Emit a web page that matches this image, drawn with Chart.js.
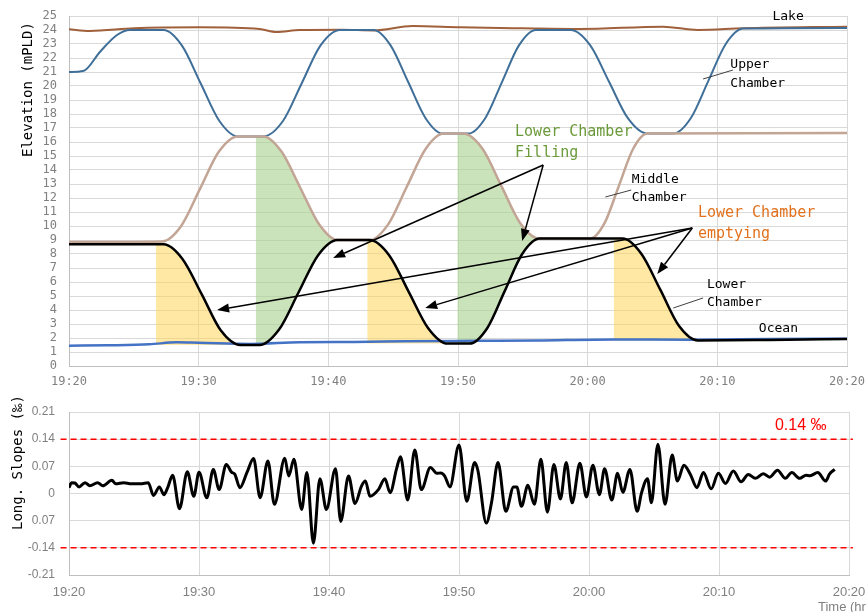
<!DOCTYPE html>
<html><head><meta charset="utf-8">
<script src="https://cdn.jsdelivr.net/npm/chart.js@4.4.1/dist/chart.umd.min.js"></script>
<style>
html,body{margin:0;padding:0;background:#fff;}
#wrap{position:relative;width:866px;height:612px;overflow:hidden;background:#fff;}
#top{position:absolute;left:0;top:0;}
#bot{position:absolute;left:0;top:390px;}
</style></head><body>
<div id="wrap"><canvas id="top" width="866" height="390"></canvas><canvas id="bot" width="866" height="222"></canvas></div>
<script>
// ---- tick labels ----
const timeTicks = [0, 10, 20, 30, 40, 50, 60];
const timeLabels = ['19:20', '19:30', '19:40', '19:50', '20:00', '20:10', '20:20'];
const slopeTicks = [-0.21, -0.14, -0.07, 0, 0.07, 0.14, 0.21];
const slopeTickLabels = ['-0.21', '-0.14', '0.07', '0', '0.07', '0.14', '0.21'];
const slopeLimit = 0.14;

// ---- elevation series [minutes after 19:20, elevation mPLD] ----
const lake = [[0,24.05],[1.6,23.93],[5,24.12],[10.1,24.19],[14.7,24.07],[16,23.86],[17.8,24.0],[21,24.02],[23.5,23.97],[26.5,24.28],[30.2,24.19],[35,24.12],[39.4,24.07],[45.8,24.24],[48.5,24.0],[52,24.12],[60,24.24]];
const upper = [[0,21.0],[1.1,21.07],[2.4,22.45],[3.7,23.64],[4.7,24.0],[7.3,24.0],[8.7,22.9],[10.15,20.2],[11.6,17.5],[13.0,16.4],[15.0,16.4],[16.5,17.5],[17.95,20.2],[19.4,22.9],[20.9,24.0],[23.5,24.0],[24.8,22.9],[26.15,20.3],[27.5,17.7],[28.8,16.6],[30.8,16.6],[32.1,17.7],[33.4,20.3],[34.7,22.9],[36.0,24.0],[38.7,24.0],[40.2,22.9],[41.65,20.3],[43.1,17.7],[44.6,16.6],[46.6,16.6],[47.95,17.7],[49.3,20.35],[50.65,23.0],[52.0,24.1],[60,24.15]];
const middle = [[0,8.85],[7.2,8.9],[8.65,10.0],[10.1,12.65],[11.55,15.3],[13.0,16.4],[15.0,16.4],[16.4,15.3],[17.85,12.7],[19.3,10.1],[20.7,9.0],[23.2,9.0],[24.6,10.1],[26.05,12.8],[27.5,15.5],[28.9,16.6],[30.4,16.6],[31.9,15.5],[33.35,12.85],[34.8,10.2],[36.3,9.1],[40.2,9.1],[41.3,10.2],[42.4,12.85],[43.5,15.5],[44.6,16.6],[60,16.65]];
const lower = [[0,8.7],[7.3,8.7],[8.75,7.65],[10.25,5.1],[11.7,2.55],[13.2,1.5],[14.7,1.5],[16.2,2.6],[17.7,5.25],[19.2,7.9],[20.7,9.0],[23.2,9.0],[24.7,7.9],[26.2,5.3],[27.7,2.7],[29.2,1.6],[30.9,1.6],[32.25,2.7],[33.6,5.35],[34.95,8.0],[36.3,9.1],[42.7,9.1],[44.15,8.0],[45.6,5.45],[47.05,2.85],[48.5,1.82],[54,1.86],[60,1.93]];
const ocean = [[0,1.45],[3,1.48],[6.2,1.55],[8.3,1.69],[10,1.66],[14,1.58],[17.8,1.7],[22,1.72],[26,1.76],[31.7,1.8],[36,1.83],[42,1.9],[48,1.88],[54,1.92],[60,1.95]];

// ---- shaded regions ----
const empty1 = [[6.7,8.7],[7.3,8.7],[8.75,7.65],[10.25,5.1],[11.7,2.55],[13.2,1.5],[14.0,1.5]];
const empty2 = [[23.0,9.0],[23.2,9.0],[24.7,7.9],[26.2,5.3],[27.7,2.7],[29.2,1.6],[30.0,1.6]];
const empty3 = [[42.0,9.1],[42.7,9.1],[44.15,8.0],[45.6,5.45],[47.05,2.85],[48.5,1.82],[49.5,1.82]];
const fill1Top = [[14.4,16.4],[15.0,16.4],[16.4,15.3],[17.85,12.7],[19.3,10.1],[20.7,9.0],[21.5,9.0]];
const fill1Bot = [[14.4,1.5],[14.7,1.5],[16.2,2.6],[17.7,5.25],[19.2,7.9],[20.7,9.0],[21.5,9.0]];
const fill2Top = [[29.95,16.6],[30.4,16.6],[31.9,15.5],[33.35,12.85],[34.8,10.2],[36.3,9.1],[37.0,9.1]];
const fill2Bot = [[29.95,1.6],[30.9,1.6],[32.25,2.7],[33.6,5.35],[34.95,8.0],[36.3,9.1],[37.0,9.1]];

// ---- longitudinal slope [minutes, permille] ----
const slope = [[0,0.015],[0.2,0.028],[0.45,0.027],[0.77,0.017],[1.23,0.028],[1.6,0.02],[2.2,0.028],[2.6,0.02],[3.3,0.034],[3.6,0.025],[4.2,0.028],[4.8,0.025],[5.5,0.025],[6.1,0.028],[6.5,-0.005],[6.95,0.017],[7.3,-0.003],[7.6,0.016],[7.97,0.047],[8.5,-0.039],[9.1,0.056],[9.6,-0.007],[10.0,0.055],[10.6,-0.011],[11.1,0.062],[11.55,0.01],[12.1,0.075],[12.5,0.055],[12.75,0.05],[13.15,0.015],[13.7,0.055],[14.2,0.09],[14.7,-0.011],[15.3,0.084],[15.8,-0.028],[16.6,0.091],[16.9,0.045],[17.3,0.088],[17.9,-0.041],[18.3,0.054],[18.8,-0.128],[19.3,0.038],[19.8,-0.041],[20.5,0.064],[20.9,-0.072],[21.5,0.045],[22.0,-0.026],[22.5,0.019],[22.8,0.032],[23.15,-0.007],[23.8,0.01],[24.3,0.038],[24.7,0.002],[25.2,0.064],[25.5,0.095],[26.05,-0.017],[26.6,0.112],[27.1,0.01],[27.8,0.067],[28.3,0.052],[28.6,0.053],[28.9,0.045],[29.3,0.017],[30.0,0.125],[30.6,-0.02],[31.2,0.08],[31.45,0.06],[32.1,-0.076],[32.5,-0.024],[33.0,0.08],[33.6,-0.046],[34.2,0.017],[34.45,0.017],[34.8,-0.033],[35.3,0.021],[35.8,-0.028],[36.3,0.088],[36.8,-0.048],[37.3,0.075],[37.8,-0.014],[38.25,0.08],[38.7,-0.024],[39.3,0.078],[39.8,-0.009],[40.3,0.073],[40.8,-0.003],[41.2,0.064],[41.75,-0.017],[42.2,0.052],[42.6,0.003],[43.15,0.062],[43.7,-0.046],[44.05,0.003],[44.5,0.038],[44.8,-0.024],[45.3,0.127],[45.85,-0.028],[46.4,0.099],[46.8,0.032],[47.3,0.073],[47.8,0.049],[48.3,0.015],[48.8,0.054],[49.4,0.012],[49.95,0.052],[50.5,0.026],[51.1,0.058],[51.7,0.03],[52.25,0.049],[52.8,0.039],[53.4,0.051],[53.9,0.042],[54.5,0.06],[55.1,0.039],[55.6,0.054],[56.2,0.039],[56.7,0.047],[57.0,0.046],[57.6,0.054],[58.2,0.032],[58.5,0.05],[58.9,0.062]];

const pts = a => a.map(p => ({x: p[0], y: p[1]}));
const MONO = '"DejaVu Sans Mono", "Liberation Mono", monospace';
const SANS = '"Liberation Sans", Arial, sans-serif';
const GRID = '#d9d9d9';
const TICK = '#808080';
const YELLOW = 'rgba(255,214,90,0.55)';
const GREEN = 'rgba(169,208,142,0.6)';

function lineDs(data, color, width, order) {
  return {data: pts(data), borderColor: color, borderWidth: width, pointRadius: 0, fill: false,
          cubicInterpolationMode: 'monotone', order: order};
}
function areaDs(data, fill, color) {
  return {data: pts(data), borderWidth: 0, borderColor: 'rgba(0,0,0,0)', pointRadius: 0, fill: fill,
          backgroundColor: color, cubicInterpolationMode: 'monotone', order: 20};
}
function noPad(s) { s.paddingLeft = 0; s.paddingRight = 0; s.paddingTop = 0; s.paddingBottom = 0; }

function arrow(ctx, x1, y1, x2, y2) {
  const ang = Math.atan2(y2 - y1, x2 - x1);
  const L = 12, W = 4.5;
  const bx = x2 - L * Math.cos(ang), by = y2 - L * Math.sin(ang);
  ctx.beginPath(); ctx.moveTo(x1, y1); ctx.lineTo(bx, by); ctx.stroke();
  ctx.beginPath();
  ctx.moveTo(x2, y2);
  ctx.lineTo(bx + W * Math.sin(ang), by - W * Math.cos(ang));
  ctx.lineTo(bx - W * Math.sin(ang), by + W * Math.cos(ang));
  ctx.closePath(); ctx.fill();
}

const topAnno = {
  id: 'topAnno',
  afterDraw(chart) {
    const {ctx, scales: {x, y}} = chart;
    const P = (t, e) => [x.getPixelForValue(t), y.getPixelForValue(e)];
    ctx.save();
    ctx.save();
    ctx.translate(28, 157); ctx.rotate(-Math.PI / 2);
    ctx.font = '14px ' + MONO; ctx.fillStyle = '#000'; ctx.textAlign = 'left'; ctx.textBaseline = 'middle';
    ctx.fillText('Elevation (mPLD)', 0, 0);
    ctx.restore();

    ctx.textAlign = 'left'; ctx.textBaseline = 'middle';
    ctx.font = '13px ' + MONO; ctx.fillStyle = '#000';
    let p;
    p = P(54.25, 24.93); ctx.fillText('Lake', p[0], p[1]);
    p = P(51.0, 21.5); ctx.fillText('Upper', p[0], p[1]);
    p = P(51.0, 20.2); ctx.fillText('Chamber', p[0], p[1]);
    p = P(43.4, 13.29); ctx.fillText('Middle', p[0], p[1]);
    p = P(43.4, 12.0); ctx.fillText('Chamber', p[0], p[1]);
    p = P(49.2, 5.79); ctx.fillText('Lower', p[0], p[1]);
    p = P(49.2, 4.5); ctx.fillText('Chamber', p[0], p[1]);
    p = P(53.2, 2.64); ctx.fillText('Ocean', p[0], p[1]);

    ctx.strokeStyle = '#404040'; ctx.lineWidth = 1;
    const lead = (a, b) => { const s = P(a[0], a[1]), e = P(b[0], b[1]); ctx.beginPath(); ctx.moveTo(s[0], s[1]); ctx.lineTo(e[0], e[1]); ctx.stroke(); };
    lead([48.9, 20.5], [51.2, 21.14]);
    lead([41.36, 12.07], [43.36, 12.57]);
    lead([46.6, 4.14], [48.9, 4.86]);

    ctx.font = '15px ' + MONO;
    ctx.fillStyle = '#6b9a3a';
    p = P(34.4, 16.71); ctx.fillText('Lower Chamber', p[0], p[1]);
    p = P(34.4, 15.21); ctx.fillText('Filling', p[0], p[1]);
    ctx.fillStyle = '#e2711d';
    p = P(48.5, 10.93); ctx.fillText('Lower Chamber', p[0], p[1]);
    p = P(48.5, 9.43); ctx.fillText('emptying', p[0], p[1]);

    ctx.strokeStyle = '#000'; ctx.fillStyle = '#000'; ctx.lineWidth = 1.5;
    const arr = (a, b) => { const s = P(a[0], a[1]), e = P(b[0], b[1]); arrow(ctx, s[0], s[1], e[0], e[1]); };
    arr([36.57, 14.36], [34.95, 8.93]);
    arr([36.57, 14.36], [20.37, 7.71]);
    arr([48.07, 9.86], [45.37, 6.57]);
    arr([48.07, 9.86], [27.47, 4.14]);
    arr([48.07, 9.86], [11.42, 4.0]);
    ctx.restore();
  }
};

const botAnno = {
  id: 'botAnno',
  afterDraw(chart) {
    const {ctx, scales: {x, y}} = chart;
    ctx.save();
    ctx.save();
    ctx.translate(18, 140); ctx.rotate(-Math.PI / 2);
    ctx.font = '14px ' + MONO; ctx.fillStyle = '#000'; ctx.textAlign = 'left'; ctx.textBaseline = 'middle';
    ctx.fillText('Long. Slopes (‰)', 0, 0);
    ctx.restore();
    ctx.font = '16px ' + SANS; ctx.fillStyle = '#ff0000'; ctx.textAlign = 'left'; ctx.textBaseline = 'middle';
    ctx.fillText('0.14 ‰', x.getPixelForValue(54.3), y.getPixelForValue(0.174));
    ctx.font = '13px ' + SANS; ctx.fillStyle = '#808080';
    ctx.fillText('Time (hr)', 818, 217);
    ctx.restore();
  }
};

Chart.defaults.animation = false;

new Chart(document.getElementById('top'), {
  type: 'line',
  data: {
    datasets: [
      lineDs(lower, '#000000', 2.5, 0),
      lineDs(ocean, '#4472c4', 2.5, 1),
      lineDs(middle, '#c2a595', 2.5, 2),
      lineDs(upper, '#3f6f98', 2, 3),
      lineDs(lake, '#a0603c', 2, 4),
      areaDs(empty1, {value: 1.5}, YELLOW),
      areaDs(empty2, {value: 1.6}, YELLOW),
      areaDs(empty3, {value: 1.82}, YELLOW),
      areaDs(fill1Bot, false, GREEN),
      areaDs(fill1Top, {target: 8}, GREEN),
      areaDs(fill2Bot, false, GREEN),
      areaDs(fill2Top, {target: 10}, GREEN)
    ]
  },
  options: {
    responsive: false, animation: false, events: [],
    layout: {padding: {left: 0, top: 16, right: 19, bottom: 0}},
    plugins: {legend: {display: false}, tooltip: {enabled: false}, filler: {drawTime: 'beforeDatasetsDraw'}},
    scales: {
      x: {
        type: 'linear', min: 0, max: 60,
        afterBuildTicks: s => { s.ticks = timeTicks.map(v => ({value: v})); },
        afterFit: s => { s.height = 24; noPad(s); },
        ticks: {font: {family: MONO, size: 12}, color: TICK, padding: 9, maxRotation: 0, autoSkip: false,
                callback: (v) => timeLabels[timeTicks.indexOf(v)]},
        grid: {color: GRID, drawTicks: false},
        border: {color: '#bfbfbf'}
      },
      y: {
        min: 0, max: 25,
        ticks: {stepSize: 1, font: {family: MONO, size: 12}, color: TICK, padding: 12, autoSkip: false},
        afterFit: s => { s.width = 69; noPad(s); },
        grid: {color: GRID, drawTicks: false},
        border: {color: '#bfbfbf'}
      }
    }
  },
  plugins: [topAnno]
});

new Chart(document.getElementById('bot'), {
  type: 'line',
  data: {
    datasets: [
      {data: pts(slope), borderColor: '#000', borderWidth: 3, pointRadius: 0, cubicInterpolationMode: 'monotone', fill: false},
      {data: [{x: -0.65, y: slopeLimit}, {x: 60.3, y: slopeLimit}], borderColor: '#ff0000', borderWidth: 1.5, borderDash: [6, 4], pointRadius: 0, fill: false, clip: false},
      {data: [{x: -0.65, y: -slopeLimit}, {x: 60.3, y: -slopeLimit}], borderColor: '#ff0000', borderWidth: 1.5, borderDash: [6, 4], pointRadius: 0, fill: false, clip: false}
    ]
  },
  options: {
    responsive: false, animation: false, events: [],
    layout: {padding: {left: 0, top: 22, right: 17, bottom: 0}},
    plugins: {legend: {display: false}, tooltip: {enabled: false}},
    scales: {
      x: {
        type: 'linear', min: 0, max: 60,
        afterBuildTicks: s => { s.ticks = timeTicks.map(v => ({value: v})); },
        afterFit: s => { s.height = 37; noPad(s); },
        ticks: {font: {family: SANS, size: 13}, color: TICK, padding: 10, maxRotation: 0, autoSkip: false,
                callback: (v) => timeLabels[timeTicks.indexOf(v)]},
        grid: {color: GRID, drawTicks: false},
        border: {color: '#bfbfbf'}
      },
      y: {
        min: -0.21, max: 0.21,
        afterBuildTicks: s => { s.ticks = slopeTicks.map(v => ({value: v})); },
        afterFit: s => { s.width = 69; noPad(s); },
        ticks: {font: {family: SANS, size: 12}, color: TICK, padding: 14, autoSkip: false,
                callback: (v, i) => slopeTickLabels[i]},
        grid: {color: GRID, drawTicks: false},
        border: {color: '#bfbfbf'}
      }
    }
  },
  plugins: [botAnno]
});
</script>
</body></html>
